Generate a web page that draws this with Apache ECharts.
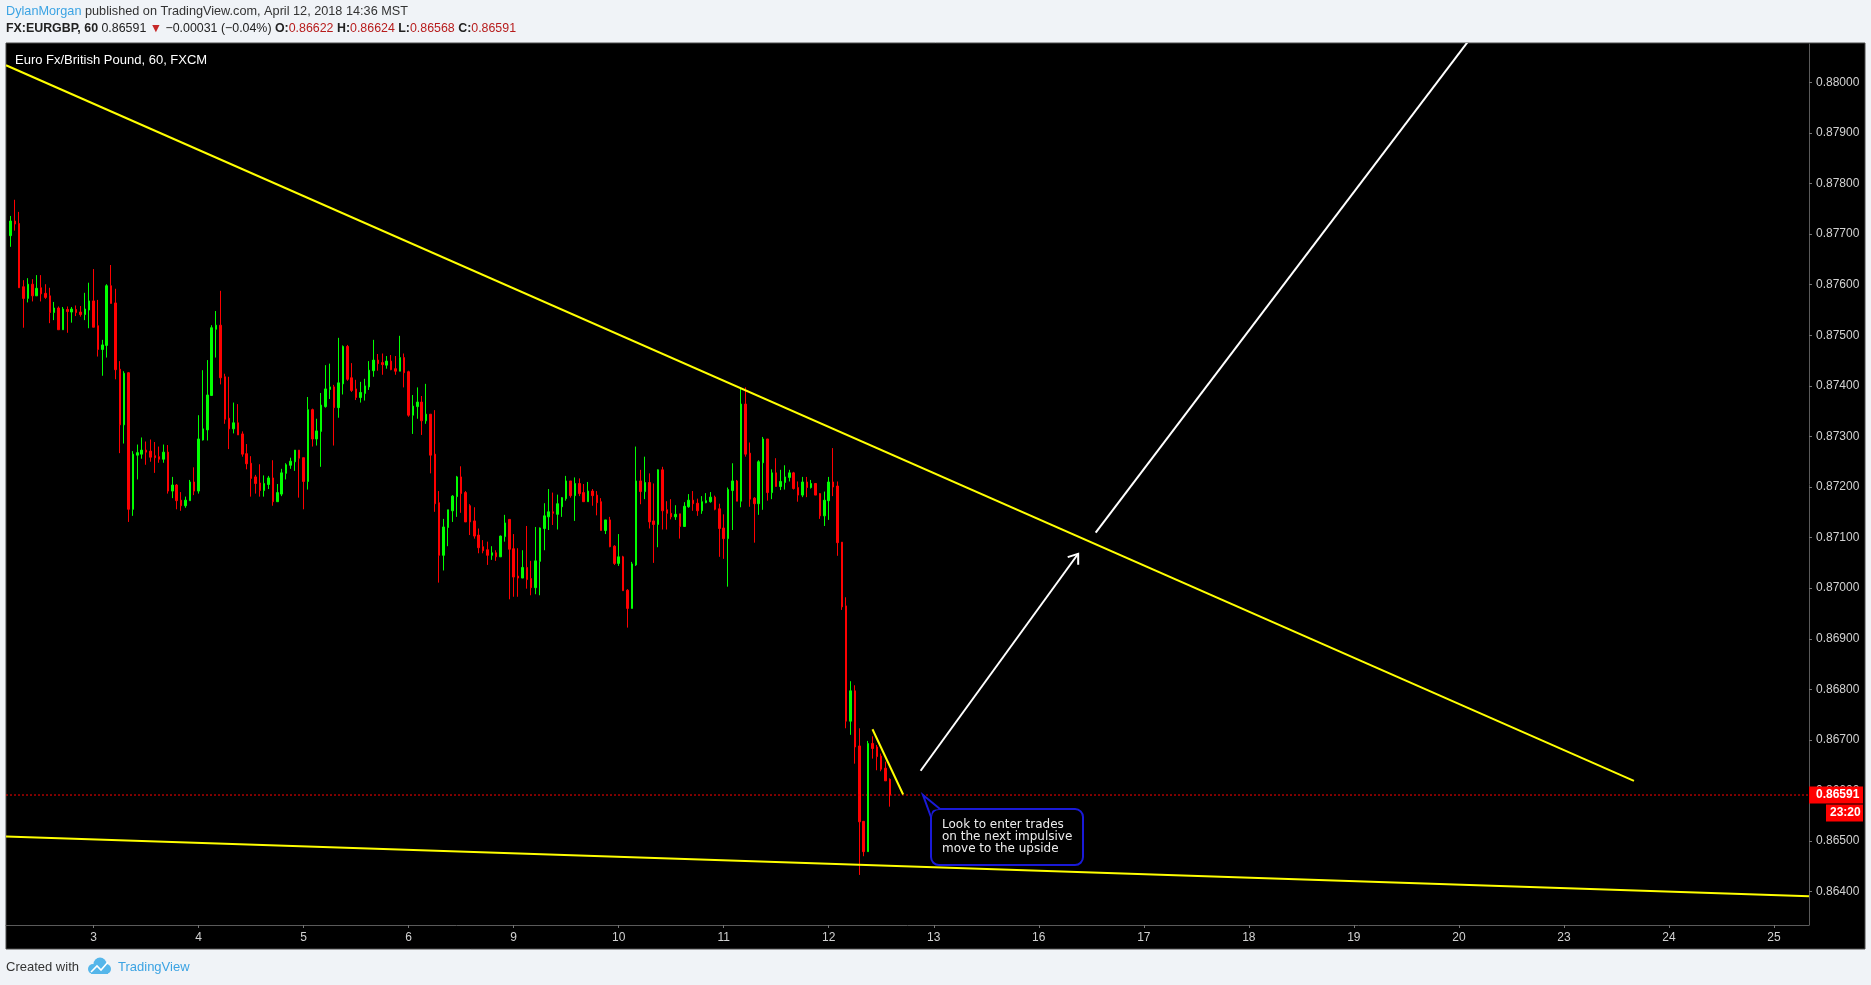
<!DOCTYPE html>
<html>
<head>
<meta charset="utf-8">
<title>EURGBP 60</title>
<script src="https://cdn.jsdelivr.net/npm/echarts@6/dist/echarts.min.js"></script>
<style>
html, body { margin: 0; padding: 0; background: #f0f3f7; }
#chart { width: 1871px; height: 985px; }
</style>
</head>
<body>
<div id="chart"></div>
<script>
// hourly candles, trading-hour index counted from 00:00 Apr 2 (weekend removed)
var firstHour = 5;
var opens = [
  0.87697,0.87726,0.87721,0.87596,0.87573,0.87601,0.87578,0.87594,0.87583,0.87578,
  0.87545,0.87554,0.87511,0.87551,0.87546,0.87551,0.87546,0.87541,0.87550,0.87568,
  0.87519,0.87472,0.87480,0.87598,0.87564,0.87433,0.87323,0.87426,0.87156,0.87263,
  0.87265,0.87273,0.87271,0.87262,0.87260,0.87255,0.87269,0.87192,0.87204,0.87174,
  0.87163,0.87173,0.87210,0.87192,0.87293,0.87313,0.87381,0.87512,0.87520,0.87418,
  0.87336,0.87315,0.87327,0.87305,0.87266,0.87247,0.87220,0.87208,0.87193,0.87205,
  0.87218,0.87171,0.87186,0.87227,0.87243,0.87250,0.87273,0.87258,0.87211,0.87353,
  0.87295,0.87310,0.87359,0.87393,0.87398,0.87357,0.87404,0.87478,0.87416,0.87394,
  0.87377,0.87385,0.87398,0.87430,0.87451,0.87446,0.87441,0.87449,0.87434,0.87429,
  0.87456,0.87428,0.87342,0.87359,0.87368,0.87331,0.87344,0.87265,0.87169,0.87065,
  0.87120,0.87153,0.87181,0.87220,0.87189,0.87163,0.87133,0.87105,0.87082,0.87076,
  0.87065,0.87070,0.87062,0.87102,0.87136,0.87078,0.87024,0.87020,0.87041,0.87019,
  0.87001,0.87053,0.87118,0.87141,0.87151,0.87146,0.87161,0.87177,0.87212,0.87183,
  0.87207,0.87189,0.87171,0.87192,0.87184,0.87171,0.87114,0.87135,0.87083,0.87049,
  0.87062,0.86996,0.86960,0.87046,0.87212,0.87191,0.87209,0.87133,0.87126,0.87234,
  0.87155,0.87148,0.87141,0.87147,0.87122,0.87161,0.87174,0.87168,0.87153,0.87169,
  0.87171,0.87180,0.87157,0.87119,0.87098,0.87193,0.87212,0.87172,0.87364,0.87267,
  0.87178,0.87167,0.87248,0.87295,0.87189,0.87228,0.87201,0.87209,0.87219,0.87228,
  0.87199,0.87184,0.87210,0.87199,0.87207,0.87187,0.87143,0.87173,0.87210,0.87202,
  0.87091,0.86965,0.86737,0.86797,0.86688,0.86539,0.86479,0.86693,0.86686,0.86668,
  0.86644,0.86622
];
var highs = [
  0.87736,0.87768,0.87744,0.87609,0.87613,0.87611,0.87619,0.87619,0.87601,0.87594,
  0.87566,0.87557,0.87556,0.87557,0.87556,0.87559,0.87558,0.87584,0.87604,0.87631,
  0.87570,0.87491,0.87601,0.87639,0.87592,0.87449,0.87429,0.87427,0.87271,0.87284,
  0.87298,0.87290,0.87294,0.87289,0.87280,0.87284,0.87283,0.87220,0.87206,0.87190,
  0.87181,0.87214,0.87239,0.87342,0.87431,0.87451,0.87520,0.87548,0.87588,0.87424,
  0.87418,0.87367,0.87364,0.87310,0.87285,0.87261,0.87224,0.87245,0.87223,0.87222,
  0.87253,0.87206,0.87236,0.87247,0.87258,0.87273,0.87273,0.87258,0.87378,0.87355,
  0.87335,0.87386,0.87441,0.87444,0.87402,0.87495,0.87480,0.87481,0.87445,0.87412,
  0.87408,0.87414,0.87449,0.87491,0.87463,0.87464,0.87459,0.87461,0.87459,0.87499,
  0.87464,0.87430,0.87382,0.87397,0.87380,0.87404,0.87344,0.87352,0.87192,0.87137,
  0.87155,0.87184,0.87222,0.87241,0.87192,0.87166,0.87160,0.87118,0.87095,0.87092,
  0.87083,0.87075,0.87104,0.87145,0.87136,0.87107,0.87079,0.87075,0.87123,0.87054,
  0.87121,0.87120,0.87168,0.87196,0.87189,0.87185,0.87180,0.87222,0.87212,0.87219,
  0.87217,0.87206,0.87210,0.87196,0.87192,0.87178,0.87135,0.87141,0.87085,0.87107,
  0.87064,0.86998,0.87052,0.87280,0.87234,0.87260,0.87227,0.87207,0.87235,0.87240,
  0.87172,0.87176,0.87164,0.87147,0.87170,0.87186,0.87192,0.87177,0.87182,0.87188,
  0.87190,0.87183,0.87167,0.87146,0.87199,0.87247,0.87214,0.87397,0.87397,0.87288,
  0.87180,0.87253,0.87299,0.87295,0.87235,0.87257,0.87234,0.87243,0.87234,0.87230,
  0.87211,0.87220,0.87220,0.87214,0.87208,0.87188,0.87191,0.87220,0.87277,0.87211,
  0.87091,0.86982,0.86816,0.86808,0.86723,0.86539,0.86698,0.86707,0.86690,0.86673,
  0.86657,0.86624
];
var lows = [
  0.87675,0.87707,0.87594,0.87515,0.87565,0.87567,0.87578,0.87567,0.87572,0.87524,
  0.87530,0.87511,0.87511,0.87505,0.87525,0.87538,0.87537,0.87530,0.87514,0.87516,
  0.87458,0.87420,0.87456,0.87563,0.87413,0.87267,0.87286,0.87131,0.87143,0.87215,
  0.87256,0.87244,0.87250,0.87228,0.87248,0.87248,0.87187,0.87178,0.87156,0.87153,
  0.87159,0.87173,0.87184,0.87187,0.87292,0.87292,0.87381,0.87456,0.87403,0.87325,
  0.87275,0.87306,0.87303,0.87260,0.87235,0.87181,0.87187,0.87181,0.87181,0.87196,
  0.87163,0.87171,0.87182,0.87215,0.87236,0.87232,0.87179,0.87156,0.87195,0.87280,
  0.87282,0.87240,0.87357,0.87374,0.87282,0.87337,0.87383,0.87410,0.87388,0.87372,
  0.87367,0.87371,0.87392,0.87418,0.87430,0.87422,0.87434,0.87431,0.87422,0.87429,
  0.87397,0.87339,0.87305,0.87335,0.87303,0.87325,0.87227,0.87151,0.87011,0.87035,
  0.87083,0.87131,0.87141,0.87149,0.87131,0.87105,0.87098,0.87069,0.87069,0.87046,
  0.87056,0.87054,0.87062,0.87092,0.86978,0.86983,0.86983,0.87020,0.86999,0.86986,
  0.86988,0.86986,0.87075,0.87115,0.87125,0.87116,0.87141,0.87173,0.87179,0.87133,
  0.87182,0.87171,0.87171,0.87163,0.87144,0.87114,0.87107,0.87081,0.87046,0.87044,
  0.86995,0.86922,0.86960,0.87044,0.87166,0.87176,0.87118,0.87050,0.87081,0.87116,
  0.87116,0.87136,0.87135,0.87098,0.87122,0.87159,0.87153,0.87143,0.87147,0.87168,
  0.87169,0.87154,0.87062,0.87058,0.87003,0.87115,0.87172,0.87160,0.87260,0.87161,
  0.87090,0.87145,0.87155,0.87173,0.87176,0.87201,0.87194,0.87195,0.87211,0.87195,
  0.87171,0.87180,0.87180,0.87197,0.87184,0.87137,0.87123,0.87135,0.87182,0.87064,
  0.86957,0.86723,0.86710,0.86653,0.86433,0.86470,0.86479,0.86663,0.86640,0.86638,
  0.86619,0.86568
];
var closes = [
  0.87726,0.87720,0.87594,0.87573,0.87601,0.87578,0.87593,0.87582,0.87575,0.87545,
  0.87554,0.87511,0.87552,0.87547,0.87552,0.87545,0.87541,0.87552,0.87568,0.87516,
  0.87472,0.87481,0.87598,0.87563,0.87432,0.87323,0.87425,0.87156,0.87265,0.87268,
  0.87273,0.87269,0.87259,0.87258,0.87255,0.87269,0.87192,0.87204,0.87173,0.87163,
  0.87174,0.87210,0.87192,0.87295,0.87315,0.87382,0.87515,0.87520,0.87416,0.87334,
  0.87315,0.87327,0.87303,0.87265,0.87246,0.87217,0.87207,0.87193,0.87207,0.87218,
  0.87171,0.87189,0.87228,0.87244,0.87251,0.87273,0.87257,0.87211,0.87353,0.87295,
  0.87311,0.87362,0.87394,0.87398,0.87357,0.87406,0.87478,0.87413,0.87391,0.87377,
  0.87387,0.87400,0.87431,0.87451,0.87444,0.87442,0.87449,0.87432,0.87429,0.87456,
  0.87426,0.87342,0.87360,0.87368,0.87331,0.87344,0.87263,0.87167,0.87065,0.87121,
  0.87155,0.87182,0.87220,0.87187,0.87131,0.87131,0.87103,0.87080,0.87074,0.87065,
  0.87070,0.87062,0.87103,0.87129,0.87077,0.87022,0.87020,0.87041,0.87017,0.87001,
  0.87054,0.87119,0.87143,0.87151,0.87148,0.87167,0.87179,0.87212,0.87183,0.87207,
  0.87187,0.87171,0.87192,0.87183,0.87169,0.87114,0.87135,0.87082,0.87049,0.87062,
  0.86995,0.86960,0.87048,0.87212,0.87191,0.87209,0.87131,0.87126,0.87234,0.87153,
  0.87148,0.87141,0.87146,0.87122,0.87162,0.87174,0.87167,0.87153,0.87171,0.87173,
  0.87180,0.87156,0.87118,0.87098,0.87195,0.87212,0.87172,0.87364,0.87265,0.87176,
  0.87167,0.87250,0.87295,0.87189,0.87228,0.87201,0.87211,0.87220,0.87228,0.87197,
  0.87184,0.87210,0.87199,0.87207,0.87184,0.87143,0.87174,0.87210,0.87200,0.87090,
  0.86963,0.86737,0.86797,0.86686,0.86538,0.86479,0.86693,0.86683,0.86667,0.86642,
  0.86619,0.86591
];

// x axis: one slot per hour, label at each day start
var hourStart = 4, hourEnd = 416;
var dayLabels = ['2', '3', '4', '5', '6', '9', '10', '11', '12', '13', '16', '17', '18', '19', '20', '23', '24', '25'];
var lastPrice = 0.86591;
var timeLeft = '23:20';

// drawings as [hour, price]
var upperTrend = [[4, 0.88034], [376, 0.86619]];
var lowerTrend = [[4, 0.86509], [416, 0.86391]];
var flagLine = [[202, 0.86721], [209, 0.86592]];
var arrowUp = [[213, 0.86639], [249, 0.87068]];
var targetLine = [[253, 0.87110], [338, 0.88080]];
var noteAnchor = [214, 0.86591];
var noteLines = ['Look to enter trades', 'on the next impulsive', 'move to the upside'];

var chart = echarts.init(document.getElementById('chart'));

var cats = [];
for (var h = hourStart; h <= hourEnd; h++) cats.push(String(h));
var candles = cats.map(function (c, i) {
  var k = hourStart + i - firstHour;
  if (k < 0 || k >= opens.length) return '-';
  return [opens[k], closes[k], lows[k], highs[k]];
});
function seg(pts) {
  return pts.map(function (p) { return [p[0] - hourStart, p[1]]; });
}
function drawLine(pts, color, z) {
  return {
    type: 'line', data: seg(pts), symbol: 'none', silent: true, z: z || 4,
    lineStyle: { color: color, width: 2 }
  };
}

var priceLine = drawLine([[hourStart, lastPrice], [hourEnd, lastPrice]], '#ff0000', 2);
priceLine.lineStyle = { color: '#ff0000', width: 1, type: [2, 2] };

var option = {
  animation: false,
  backgroundColor: 'transparent',
  grid: { left: 6, right: 62, top: 44, bottom: 60 },
  xAxis: {
    type: 'category',
    data: cats,
    boundaryGap: false,
    axisLine: { lineStyle: { color: '#5a5a5a' } },
    axisTick: {
      length: 3,
      interval: function (i, v) { return (+v) % 24 === 0; },
      lineStyle: { color: '#777' }
    },
    axisLabel: {
      interval: function (i, v) { return (+v) % 24 === 0; },
      formatter: function (v) { return dayLabels[(+v) / 24]; },
      color: '#d2d2d2', fontSize: 12, fontFamily: 'Liberation Sans', margin: 7
    },
    splitLine: { show: false }
  },
  yAxis: {
    type: 'value',
    position: 'right',
    min: 0.86334,
    max: 0.88076,
    splitNumber: 17,
    minInterval: 0.001,
    maxInterval: 0.001,
    axisLine: { show: true, lineStyle: { color: '#5a5a5a' } },
    axisTick: { show: true, length: 3, lineStyle: { color: '#777' } },
    axisLabel: {
      showMinLabel: false, showMaxLabel: false,
      formatter: function (v) { return v.toFixed(5); },
      color: '#d2d2d2', fontSize: 12, fontFamily: 'Liberation Sans', margin: 7
    },
    splitLine: { show: false }
  },
  series: [
    priceLine,
    {
      type: 'candlestick',
      data: candles,
      barWidth: 2,
      z: 3,
      itemStyle: {
        color: '#00ff00', color0: '#ff0000',
        borderColor: '#00ff00', borderColor0: '#ff0000', borderWidth: 1
      }
    },
    drawLine(upperTrend, '#ffff00'),
    drawLine(lowerTrend, '#ffff00'),
    drawLine(flagLine, '#ffff00'),
    drawLine(arrowUp, '#ffffff'),
    drawLine(targetLine, '#ffffff'),
    {
      // arrow head on the first white line
      type: 'custom', silent: true, z: 5,
      data: [[arrowUp[0][0] - hourStart, arrowUp[0][1], arrowUp[1][0] - hourStart, arrowUp[1][1]]],
      renderItem: function (params, api) {
        var a = api.coord([api.value(0), api.value(1)]);
        var b = api.coord([api.value(2), api.value(3)]);
        var ang = Math.atan2(b[1] - a[1], b[0] - a[0]);
        var len = 11, spread = 0.63;
        var p1 = [b[0] - len * Math.cos(ang - spread), b[1] - len * Math.sin(ang - spread)];
        var p2 = [b[0] - len * Math.cos(ang + spread), b[1] - len * Math.sin(ang + spread)];
        return {
          type: 'polyline',
          shape: { points: [p1, b, p2] },
          style: { stroke: '#ffffff', lineWidth: 2, fill: null }
        };
      }
    },
    {
      // callout balloon
      type: 'custom', silent: true, z: 6,
      data: [[noteAnchor[0] - hourStart, noteAnchor[1]]],
      renderItem: function (params, api) {
        var p = api.coord([api.value(0), api.value(1)]);
        var x = p[0] - 2, y = p[1];
        var L = x + 8, T = y + 14, W = 152, H = 56;
        var topPt = [x + 17, T], leftPt = [L, y + 22];
        return {
          type: 'group',
          children: [
            { type: 'rect', shape: { x: L, y: T, width: W, height: H, r: 8 },
              style: { fill: '#000', stroke: '#1a1ad8', lineWidth: 2 } },
            { type: 'polygon', shape: { points: [[x, y], topPt, [L + 1, T + 1], leftPt] },
              style: { fill: '#000' } },
            { type: 'polyline', shape: { points: [topPt, [x, y], leftPt] },
              style: { stroke: '#1a1ad8', lineWidth: 2, fill: null } },
            { type: 'text',
              style: { text: noteLines.join('\n'), x: x + 19, y: y + 24, fill: '#ececec',
                font: '12px "DejaVu Sans"', lineHeight: 12, verticalAlign: 'top' } }
          ]
        };
      }
    }
  ],
  graphic: [
    { id: 'panel', type: 'rect', z: -10, silent: true,
      shape: { x: 6, y: 43, width: 1859, height: 906 },
      style: { fill: '#000000', stroke: '#4a4a4a', lineWidth: 1 } },
    { id: 'head1', type: 'text', x: 6, y: 11, silent: true,
      style: {
        text: '{u|DylanMorgan} published on TradingView.com, April 12, 2018 14:36 MST',
        fill: '#333', font: '12.7px "Liberation Sans"', verticalAlign: 'middle',
        rich: { u: { fill: '#3ba3e3', fontSize: 12.7, fontFamily: 'Liberation Sans' } }
      } },
    { id: 'head2', type: 'text', x: 6, y: 29, silent: true,
      style: {
        text: '{b|FX:EURGBP, 60} 0.86591 {r|\u25BC} \u22120.00031 (\u22120.04%) {b|O:}{v|0.86622} {b|H:}{v|0.86624} {b|L:}{v|0.86568} {b|C:}{v|0.86591}',
        fill: '#222', font: '12.4px "Liberation Sans"', verticalAlign: 'middle',
        rich: {
          b: { fontWeight: 'bold', fontSize: 12.4, fontFamily: 'Liberation Sans', fill: '#222' },
          r: { fill: '#c62828', fontSize: 12.4, fontFamily: 'Liberation Sans' },
          v: { fill: '#b71c1c', fontSize: 12.4, fontFamily: 'Liberation Sans' }
        }
      } },
    { id: 'title', type: 'text', x: 15, y: 60, silent: true, z: 10,
      style: { text: 'Euro Fx/British Pound, 60, FXCM', fill: '#ffffff',
        font: '13px "Liberation Sans"', verticalAlign: 'middle' } },
    { id: 'foot1', type: 'text', x: 6, y: 967, silent: true,
      style: { text: 'Created with', fill: '#333', font: '13px "Liberation Sans"', verticalAlign: 'middle' } },
    { id: 'logo', type: 'group', silent: true, children: [
      { type: 'circle', shape: { cx: 93, cy: 969, r: 5 }, style: { fill: '#55b6ea' } },
      { type: 'circle', shape: { cx: 100, cy: 964, r: 6.5 }, style: { fill: '#55b6ea' } },
      { type: 'circle', shape: { cx: 106, cy: 969, r: 5 }, style: { fill: '#55b6ea' } },
      { type: 'rect', shape: { x: 91, y: 968, width: 17, height: 6 }, style: { fill: '#55b6ea' } },
      { type: 'polyline', shape: { points: [[91, 972], [97, 966], [101, 970], [108, 962]] },
        style: { stroke: '#fff', lineWidth: 1.6, fill: null } }
    ] },
    { id: 'foot2', type: 'text', x: 118, y: 967, silent: true,
      style: { text: 'TradingView', fill: '#3ba3e3', font: '13px "Liberation Sans"', verticalAlign: 'middle' } }
  ]
};

chart.setOption(option);

// last price tag on the price scale
var py = chart.convertToPixel({ yAxisIndex: 0 }, lastPrice);
chart.setOption({
  graphic: [
    { id: 'tagBox', type: 'rect', z: 20, silent: true,
      shape: { x: 1809, y: py - 8.5, width: 54, height: 17 }, style: { fill: '#ff0000' } },
    { id: 'tagText', type: 'text', z: 21, silent: true, x: 1816, y: py,
      style: { text: lastPrice.toFixed(5), fill: '#ffffff', font: 'bold 12px "Liberation Sans"', verticalAlign: 'middle' } },
    { id: 'timeBox', type: 'rect', z: 20, silent: true,
      shape: { x: 1826, y: py + 9.5, width: 37, height: 17 }, style: { fill: '#ff0000' } },
    { id: 'timeText', type: 'text', z: 21, silent: true, x: 1830, y: py + 18,
      style: { text: timeLeft, fill: '#ffffff', font: 'bold 12px "Liberation Sans"', verticalAlign: 'middle' } }
  ]
});
</script>
</body>
</html>
